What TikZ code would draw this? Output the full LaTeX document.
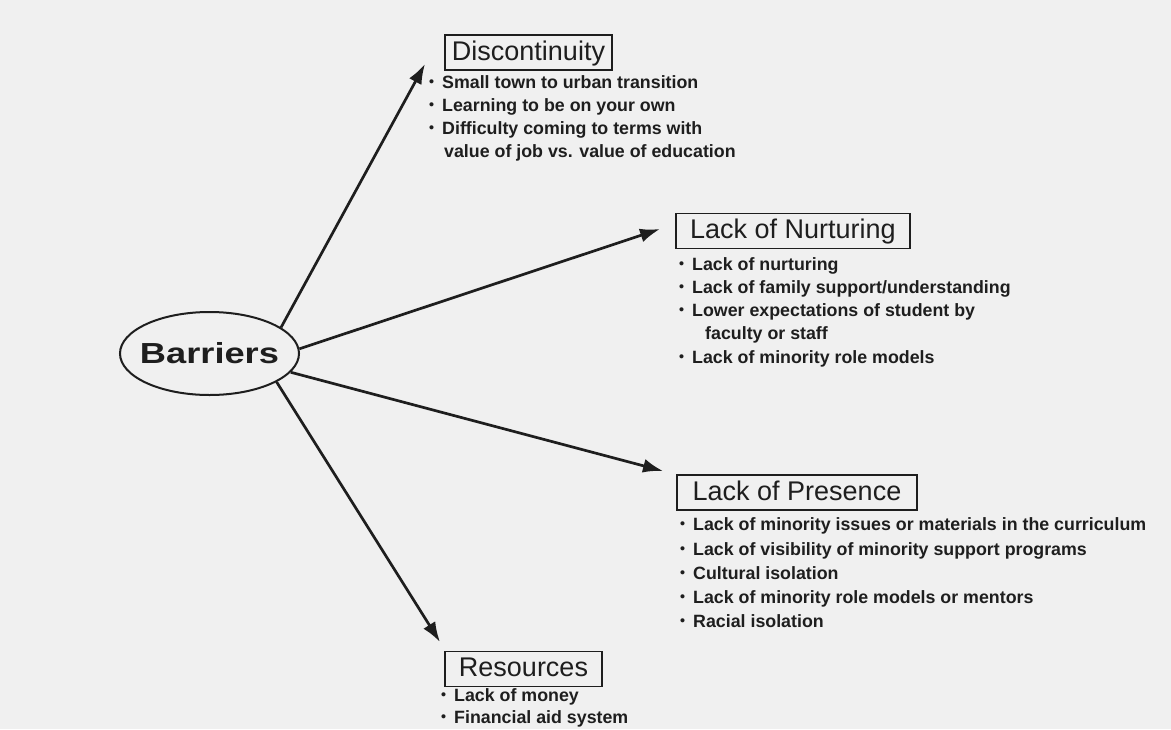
\documentclass[tikz,border=0pt]{standalone}
\usepackage{fontspec}
\setmainfont{Liberation Sans}
\usetikzlibrary{shapes.geometric,arrows.meta}
\definecolor{paper}{RGB}{240,240,240}
\definecolor{ink}{RGB}{30,30,30}
\newcommand{\bl}{\makebox[13pt][l]{\raisebox{1.5pt}{\scalebox{0.8}{\textbullet}}}}
\begin{document}
\begin{tikzpicture}[x=1pt,y=-1pt,
  title/.style={draw=ink,line width=1.4pt,font=\fontsize{27}{27}\selectfont,text=ink,
    text height=20pt,text depth=5pt,inner ysep=5pt,inner xsep=0pt,anchor=center},
  item/.style={font=\bfseries\fontsize{17.8}{20}\selectfont,text=ink,anchor=base west,inner sep=0pt},
  arr/.style={draw=ink,line width=2.7pt,-{Latex[length=20pt,width=14pt]}}]
\fill[paper] (0,0) rectangle (1171,729);
\useasboundingbox (0,0) rectangle (1171,729);

\node[ellipse,draw=ink,line width=2pt,minimum width=179pt,minimum height=83pt,inner sep=0pt,
  text height=10pt,text depth=0pt,
  font=\bfseries\fontsize{29}{29}\selectfont,text=ink] (B) at (209.5,353.5)
  {\makebox[0pt]{\raisebox{-5pt}{\scalebox{1.25}[1]{Barriers}}}};

\node[title,minimum width=167pt] (D) at (528.5,52.5) {Discontinuity};
\node[title,minimum width=234pt] (N) at (793,231) {Lack of Nurturing};
\node[title,minimum width=240pt] (P) at (797,492.5) {Lack of Presence};
\node[title,minimum width=157pt] (R) at (523.5,669) {Resources};

\coordinate (t1) at (425,64);
\coordinate (t2) at (660,229);
\coordinate (t3) at (663,471);
\coordinate (t4) at (440,642);

\draw[arr] (B.20.4) -- (t1);
\draw[arr] (B.3.3) -- (t2);
\draw[arr] (B.-13.3) -- (t3);
\draw[arr] (B.-23.6) -- (t4);

\node[item] (d1) at (429,88) {\bl Small town to urban transition};
\node[item] (d2) at (429,111) {\bl Learning to be on your own};
\node[item] (d3) at (429,134) {\bl Difficulty coming to terms with};
\node[item] (d4) at (444,157) {value of job vs. value of education};

\node[item] (n1) at (679,270) {\bl Lack of nurturing};
\node[item] (n2) at (679,293) {\bl Lack of family support/understanding};
\node[item] (n3) at (679,316) {\bl Lower expectations of student by};
\node[item] (n4) at (705,339) {faculty or staff};
\node[item] (n5) at (679,363) {\bl Lack of minority role models};

\node[item] (p1) at (680,530) {\bl Lack of minority issues or materials in the curriculum};
\node[item] (p2) at (680,555) {\bl Lack of visibility of minority support programs};
\node[item] (p3) at (680,579) {\bl Cultural isolation};
\node[item] (p4) at (680,603) {\bl Lack of minority role models or mentors};
\node[item] (p5) at (680,627) {\bl Racial isolation};

\node[item] (r1) at (441,701) {\bl Lack of money};
\node[item] (r2) at (441,723) {\bl Financial aid system};
\end{tikzpicture}
\end{document}
